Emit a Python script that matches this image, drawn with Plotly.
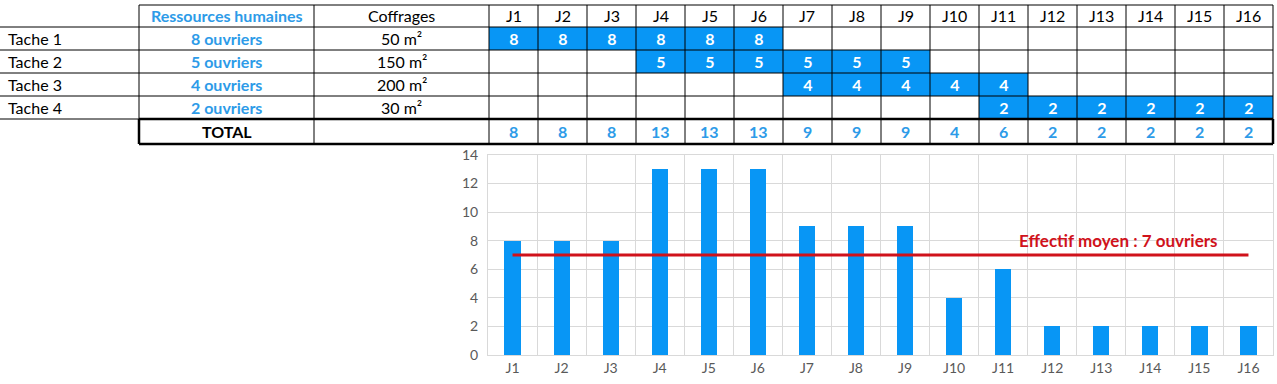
import plotly.graph_objects as go

# ---------------- data ----------------
jours = ["J1", "J2", "J3", "J4", "J5", "J6", "J7", "J8", "J9", "J10",
         "J11", "J12", "J13", "J14", "J15", "J16"]
taches = ["Tache 1", "Tache 2", "Tache 3", "Tache 4"]
ressources = ["8 ouvriers", "5 ouvriers", "4 ouvriers", "2 ouvriers"]
ouvriers = [8, 5, 4, 2]
coffrages = ["50 m²", "150 m²", "200 m²", "30 m²"]
debut = [1, 4, 7, 11]        # first day (J index, 1-based)
duree = [6, 6, 5, 6]         # number of days
total = [8, 8, 8, 13, 13, 13, 9, 9, 9, 4, 6, 2, 2, 2, 2, 2]
effectif_moyen = 7
label_moyen = "Effectif moyen : 7 ouvriers"

# ---------------- styling / geometry ----------------
W, H = 1277, 384
FONT = "Lato"
BLUE_FILL = "#0896F5"
BLUE_TEXT = "#2D9BE8"
RED = "#D0121B"
GRID = "#D9D9D9"
TICK = "#595959"
TS = 16  # table font size

col_edges = [0, 139, 314, 489] + [489 + 49 * (i + 1) for i in range(16)]
row_edges = [5, 27, 50, 73, 96, 119, 144]


def px(x):
    return x / W


def py(y):
    return 1 - y / H


# schedule matrix
z = []
txt = []
for d, n, w in zip(debut, duree, ouvriers):
    rowz, rowt = [], []
    for j in range(1, len(jours) + 1):
        if d <= j < d + n:
            rowz.append(w)
            rowt.append(str(w))
        else:
            rowz.append(None)
            rowt.append("")
    z.append(rowz)
    txt.append(rowt)

fig = go.Figure()

# ---- bar chart ----
fig.add_trace(go.Bar(
    x=jours, y=total, marker=dict(color=BLUE_FILL, line=dict(width=0)),
    width=0.33, xaxis="x", yaxis="y", showlegend=False, hoverinfo="x+y"))
fig.add_trace(go.Scatter(
    x=[jours[0], jours[-1]], y=[effectif_moyen, effectif_moyen], mode="lines",
    line=dict(color=RED, width=3), xaxis="x", yaxis="y", showlegend=False))

# ---- table blue cells ----
fig.add_trace(go.Heatmap(
    x=jours, y=taches, z=z, text=txt, texttemplate="%{text}",
    textfont=dict(family=FONT, size=TS, color="white", weight="bold"),
    colorscale=[[0, BLUE_FILL], [1, BLUE_FILL]], showscale=False,
    xgap=0, ygap=0, xaxis="x2", yaxis="y2", hoverinfo="skip"))

shapes = []
ann = []


def hline(y, x0, x1, w=1):
    shapes.append(dict(type="line", xref="paper", yref="paper",
                       x0=px(x0), x1=px(x1), y0=py(y), y1=py(y),
                       line=dict(color="black", width=w), layer="above"))


def vline(x, y0, y1, w=1):
    shapes.append(dict(type="line", xref="paper", yref="paper",
                       x0=px(x), x1=px(x), y0=py(y0), y1=py(y1),
                       line=dict(color="black", width=w), layer="above"))


# horizontal lines
hline(row_edges[0], col_edges[1], col_edges[-1])
for y in row_edges[1:5]:
    hline(y, 0, col_edges[-1])
hline(row_edges[5], 0, col_edges[1])
hline(row_edges[5], col_edges[1], col_edges[-1], 2.5)
hline(row_edges[6], col_edges[1], col_edges[-1], 2.5)
# vertical lines
for x in col_edges[1:]:
    vline(x, row_edges[0], row_edges[5])
    thick = x in (col_edges[1], col_edges[-1])
    vline(x, row_edges[5], row_edges[6], 2.5 if thick else 1)


def cell_text(text, c, r, color="black", bold=False, align="center"):
    x0, x1 = col_edges[c], col_edges[c + 1]
    y0, y1 = row_edges[r], row_edges[r + 1]
    if align == "center":
        x, xa = (x0 + x1) / 2, "center"
    else:
        x, xa = x0 + 6, "left"
    ann.append(dict(xref="paper", yref="paper", x=px(x), y=py((y0 + y1) / 2),
                    text=text, showarrow=False, xanchor=xa, yanchor="middle",
                    font=dict(family=FONT, size=TS, color=color,
                              weight="bold" if bold else "normal")))


cell_text("Ressources humaines", 1, 0, BLUE_TEXT, True)
cell_text("Coffrages", 2, 0)
for j, jl in enumerate(jours):
    cell_text(jl, 3 + j, 0)
for i in range(len(taches)):
    cell_text(taches[i], 0, 1 + i, align="left")
    cell_text(ressources[i], 1, 1 + i, BLUE_TEXT, True)
    cell_text(coffrages[i], 2, 1 + i)
cell_text("TOTAL", 1, 5, bold=True)
for j, t in enumerate(total):
    cell_text(str(t), 3 + j, 5, BLUE_TEXT, True)

# average label
ann.append(dict(xref="x", yref="y", x=12.35, y=effectif_moyen + 0.12,
                text=label_moyen, showarrow=False, xanchor="center",
                yanchor="bottom",
                font=dict(family=FONT, size=17, color=RED, weight="bold")))

fig.update_layout(
    template="none",
    width=W, height=H, margin=dict(l=0, r=0, t=0, b=0, pad=0),
    paper_bgcolor="white", plot_bgcolor="white",
    font=dict(family=FONT, size=14, color=TICK),
    shapes=shapes, annotations=ann, bargap=0,
    xaxis=dict(domain=[px(488), px(1273)], type="category",
               categoryorder="array", categoryarray=jours,
               range=[-0.5, 15.5], tickson="boundaries", ticks="",
               showgrid=True, gridcolor=GRID, gridwidth=1, zeroline=False,
               showline=True, linecolor=GRID, mirror=True, automargin=False,
               tickfont=dict(family=FONT, size=14, color=TICK),
               fixedrange=True),
    yaxis=dict(domain=[py(355), py(155)], range=[0, 14], dtick=2,
               showgrid=True, gridcolor=GRID, gridwidth=1, zeroline=False,
               showline=True, linecolor=GRID, mirror=True, ticks="",
               ticklabelstandoff=6, automargin=False,
               tickfont=dict(family=FONT, size=14, color=TICK),
               fixedrange=True),
    xaxis2=dict(domain=[px(col_edges[3]), px(col_edges[-1])], type="category",
                categoryorder="array", categoryarray=jours,
                range=[-0.5, 15.5], visible=False, anchor="y2",
                automargin=False, fixedrange=True),
    yaxis2=dict(domain=[py(row_edges[5]), py(row_edges[1])], type="category",
                categoryorder="array", categoryarray=taches,
                range=[3.5, -0.5], visible=False, anchor="x2",
                automargin=False, fixedrange=True),
)

fig.write_html(
    "out.html",
    config={"displayModeBar": False},
    post_script=(
        "document.documentElement.style.margin='0';"
        "document.documentElement.style.overflow='hidden';"
        "document.body.style.margin='0';"
        "document.body.style.overflow='hidden';"
    ),
)
